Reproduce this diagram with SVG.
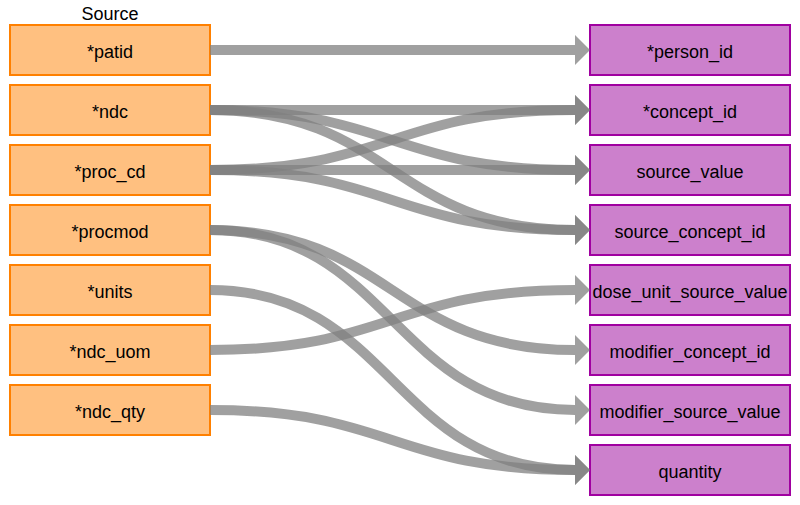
<svg xmlns="http://www.w3.org/2000/svg" width="800" height="505" viewBox="0 0 800 505">
<style>
.src rect{fill:#ffc080;stroke:#ff8000;stroke-width:2}
.tgt rect{fill:#cc80cc;stroke:#a000a0;stroke-width:2}
text{font-family:"Liberation Sans",Arial,sans-serif;font-size:18px;fill:#000;text-anchor:middle}
#connectors path{fill:none;stroke:#808080;stroke-opacity:0.75;stroke-width:10;marker-end:url(#ah)}
</style>
<defs>
<marker id="ah" markerUnits="userSpaceOnUse" markerWidth="15" markerHeight="30" viewBox="0 0 15 30" refX="0" refY="15" orient="auto">
<path d="M0,0 L15,15 L0,30 Z" fill="#808080" fill-opacity="0.75"/>
</marker>
</defs>
<rect width="800" height="505" fill="#fff"/>
<text x="110" y="20">Source</text>
<g id="src_patid" class="src"><rect x="10" y="25" width="200" height="50"/><text x="110" y="58">*patid</text></g>
<g id="src_ndc" class="src"><rect x="10" y="85" width="200" height="50"/><text x="110" y="118">*ndc</text></g>
<g id="src_proc_cd" class="src"><rect x="10" y="145" width="200" height="50"/><text x="110" y="178">*proc_cd</text></g>
<g id="src_procmod" class="src"><rect x="10" y="205" width="200" height="50"/><text x="110" y="238">*procmod</text></g>
<g id="src_units" class="src"><rect x="10" y="265" width="200" height="50"/><text x="110" y="298">*units</text></g>
<g id="src_ndc_uom" class="src"><rect x="10" y="325" width="200" height="50"/><text x="110" y="358">*ndc_uom</text></g>
<g id="src_ndc_qty" class="src"><rect x="10" y="385" width="200" height="50"/><text x="110" y="418">*ndc_qty</text></g>
<g id="tgt_person_id" class="tgt"><rect x="590" y="25" width="200" height="50"/><text x="690" y="58">*person_id</text></g>
<g id="tgt_concept_id" class="tgt"><rect x="590" y="85" width="200" height="50"/><text x="690" y="118">*concept_id</text></g>
<g id="tgt_source_value" class="tgt"><rect x="590" y="145" width="200" height="50"/><text x="690" y="178">source_value</text></g>
<g id="tgt_source_concept_id" class="tgt"><rect x="590" y="205" width="200" height="50"/><text x="690" y="238">source_concept_id</text></g>
<g id="tgt_dose_unit_source_value" class="tgt"><rect x="590" y="265" width="200" height="50"/><text x="690" y="298">dose_unit_source_value</text></g>
<g id="tgt_modifier_concept_id" class="tgt"><rect x="590" y="325" width="200" height="50"/><text x="690" y="358">modifier_concept_id</text></g>
<g id="tgt_modifier_source_value" class="tgt"><rect x="590" y="385" width="200" height="50"/><text x="690" y="418">modifier_source_value</text></g>
<g id="tgt_quantity" class="tgt"><rect x="590" y="445" width="200" height="50"/><text x="690" y="478">quantity</text></g>
<g id="connectors">
<path d="M210,50 C392,50 392,50 575,50"/>
<path d="M210,110 C392,110 392,110 575,110"/>
<path d="M210,110 C392,110 392,170 575,170"/>
<path d="M210,110 C392,110 392,230 575,230"/>
<path d="M210,170 C392,170 392,110 575,110"/>
<path d="M210,170 C392,170 392,170 575,170"/>
<path d="M210,170 C392,170 392,230 575,230"/>
<path d="M210,230 C392,230 392,350 575,350"/>
<path d="M210,230 C392,230 392,410 575,410"/>
<path d="M210,290 C392,290 392,470 575,470"/>
<path d="M210,350 C392,350 392,290 575,290"/>
<path d="M210,410 C392,410 392,470 575,470"/>
</g>
</svg>
